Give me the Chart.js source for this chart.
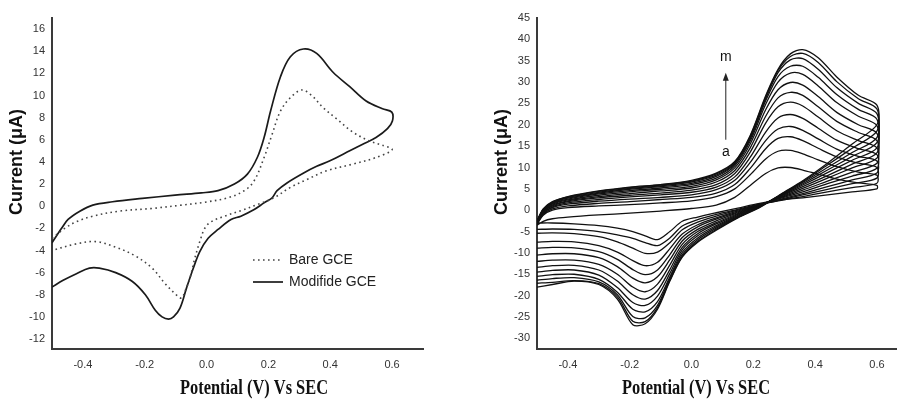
<!DOCTYPE html>
<html>
<head>
<meta charset="utf-8">
<script src="https://cdn.jsdelivr.net/npm/chart.js@4.4.1/dist/chart.umd.min.js"></script>
<style>
  html, body { margin: 0; padding: 0; background: #fff; }
  #wrap { position: relative; width: 897px; height: 402px; overflow: hidden; }
  .panel { position: absolute; top: 0; height: 402px; }
  #p1 { left: 0; width: 450px; }
  #p2 { left: 450px; width: 447px; }
</style>
</head>
<body>
<div id="wrap">
  <div class="panel" id="p1"><canvas id="c1" width="450" height="402"></canvas></div>
  <div class="panel" id="p2"><canvas id="c2" width="447" height="402"></canvas></div>
</div>
<script>
// ---------- Panel 1: bare vs modified electrode ----------
const bareE = [-0.5, -0.459, -0.421, -0.368, -0.283, -0.176, -0.08, -0.006, 0.069, 0.122, 0.154, 0.186,
  0.212, 0.239, 0.271, 0.308, 0.34, 0.377, 0.42, 0.473, 0.526, 0.569, 0.6,
  0.548, 0.473, 0.388, 0.324, 0.271, 0.218, 0.164, 0.111, 0.058, 0.015, -0.006, -0.022, -0.038,
  -0.054, -0.07, -0.081, -0.102, -0.134, -0.176, -0.23, -0.294, -0.357, -0.421, -0.5];
const bareI = [-2.9, -2.0, -1.4, -0.9, -0.45, -0.2, 0.1, 0.36, 0.76, 1.4, 2.3, 4.4,
  6.5, 8.6, 9.8, 10.5, 10.0, 8.9, 7.9, 6.7, 5.9, 5.5, 5.1,
  4.4, 3.8, 3.2, 2.4, 1.7, 0.76, 0.15, -0.4, -0.9, -1.4, -2.0, -3.2, -4.7,
  -6.5, -7.7, -8.3, -7.9, -7.0, -5.6, -4.5, -3.7, -3.2, -3.4, -4.0];

const modE = [-0.5, -0.469, -0.448, -0.41, -0.368, -0.304, -0.208, -0.102, -0.017, 0.037, 0.09, 0.132,
  0.164, 0.186, 0.207, 0.239, 0.271, 0.313, 0.356, 0.409, 0.463, 0.516, 0.569, 0.599,
  0.601, 0.585, 0.548, 0.505, 0.463, 0.399, 0.356, 0.314, 0.26, 0.228, 0.212, 0.186, 0.154,
  0.111, 0.079, 0.037, 0.005, -0.022, -0.043, -0.065, -0.086, -0.107, -0.123, -0.144, -0.166,
  -0.198, -0.24, -0.294, -0.347, -0.379, -0.421, -0.464, -0.5];
const modI = [-3.3, -2.0, -1.2, -0.45, 0.1, 0.4, 0.7, 1.0, 1.2, 1.4, 2.0, 2.9,
  4.4, 6.2, 8.6, 11.7, 13.5, 14.2, 13.8, 12.1, 10.8, 9.5, 8.8, 8.5,
  7.7, 7.0, 6.2, 5.6, 5.0, 4.1, 3.6, 3.0, 2.1, 1.4, 0.76, 0.3, -0.3,
  -0.9, -1.2, -2.1, -2.9, -4.1, -5.6, -7.4, -9.2, -10.0, -10.2, -10.0, -9.4,
  -8.0, -6.8, -6.0, -5.6, -5.6, -6.1, -6.7, -7.3];

const panel1Labels = ['Bare GCE', 'Modifide GCE'];
const panel1XTicks = [-0.4, -0.2, 0.0, 0.2, 0.4, 0.6];
const panel1YTicks = [-12, -10, -8, -6, -4, -2, 0, 2, 4, 6, 8, 10, 12, 14, 16];

// ---------- Panel 2: successive scans a..m ----------
// forward sweep (-0.5 -> 0.6) followed by reverse sweep (0.6 -> -0.5)
const scanE = [-0.5, -0.48, -0.45, -0.4, -0.3, -0.2, -0.1, 0.0, 0.08, 0.14, 0.19, 0.24, 0.28, 0.32, 0.36, 0.41, 0.47, 0.54, 0.6,
  0.6, 0.52, 0.44, 0.36, 0.29, 0.22, 0.15, 0.08, 0.02, -0.03, -0.07, -0.11, -0.15, -0.19, -0.24, -0.3, -0.38, -0.45, -0.5];

const scanA = [-3.5, -2.6, -2.0, -1.6, -1.1, -0.7, -0.2, 0.4, 1.2, 3.0, 5.8, 8.6, 9.9, 10.0, 9.4, 8.4, 7.3, 6.4, 5.8,
  5.0, 4.3, 3.6, 2.9, 2.4, 1.6, 0.5, -0.6, -1.6, -2.6, -5.0, -6.9, -6.0, -5.0, -4.2, -3.6, -3.2, -3.0, -3.0];
const scanB = [-3.3, -1.2, 0.0, 0.6, 1.0, 1.3, 1.7, 2.2, 3.2, 5.0, 8.3, 12.0, 13.8, 14.0, 13.2, 11.8, 10.2, 8.9, 8.2,
  6.3, 5.3, 4.3, 3.2, 2.3, 1.4, 0.2, -1.0, -2.2, -3.7, -6.5, -8.3, -7.6, -6.6, -5.8, -5.0, -4.5, -4.4, -4.5];
const scanC = [-3.2, -1.0, 0.3, 1.0, 1.6, 2.0, 2.5, 3.0, 4.0, 6.0, 9.8, 14.4, 16.8, 17.2, 16.3, 14.5, 12.5, 11.0, 10.0,
  7.5, 6.2, 4.9, 3.6, 2.4, 1.3, 0.0, -1.4, -2.8, -4.6, -7.6, -9.8, -10.1, -8.9, -7.4, -6.2, -5.5, -5.3, -5.4];
const scanD = [-3.1, -0.8, 0.6, 1.4, 2.1, 2.6, 3.0, 3.6, 4.8, 7.0, 11.2, 16.3, 19.0, 19.6, 18.7, 16.7, 14.3, 12.6, 11.5,
  8.7, 7.1, 5.5, 3.9, 2.6, 1.3, -0.2, -1.8, -3.4, -5.6, -9.0, -12.2, -13.0, -11.8, -9.8, -8.3, -7.4, -7.3, -7.5];
const scanE2 = [-3.0, -0.6, 0.8, 1.7, 2.5, 3.1, 3.6, 4.2, 5.4, 7.8, 12.4, 18.3, 21.6, 22.4, 21.5, 19.2, 16.4, 14.4, 13.0,
  9.8, 8.0, 6.2, 4.3, 2.8, 1.3, -0.4, -2.1, -3.9, -6.4, -10.4, -14.0, -15.1, -13.9, -11.5, -9.7, -8.8, -8.7, -8.9];
const scanF = [-2.9, -0.4, 1.0, 2.0, 2.9, 3.5, 4.0, 4.7, 6.0, 8.6, 13.6, 20.4, 24.2, 25.3, 24.4, 21.8, 18.6, 16.3, 14.6,
  11.0, 8.9, 6.8, 4.7, 3.0, 1.2, -0.6, -2.5, -4.5, -7.2, -11.6, -15.6, -17.0, -15.9, -13.2, -11.1, -10.2, -10.2, -10.5];
const scanG = [-2.8, -0.3, 1.2, 2.2, 3.2, 3.9, 4.5, 5.2, 6.6, 9.3, 14.6, 22.0, 26.3, 27.6, 26.9, 24.2, 20.8, 18.2, 16.3,
  12.2, 9.9, 7.5, 5.1, 3.1, 1.2, -0.8, -2.9, -5.0, -8.0, -12.8, -17.3, -19.1, -18.0, -15.0, -12.7, -11.7, -11.7, -12.0];
const scanH = [-2.8, -0.2, 1.4, 2.4, 3.5, 4.3, 4.9, 5.6, 7.1, 9.9, 15.5, 23.5, 28.2, 29.9, 29.3, 26.6, 22.9, 20.0, 18.0,
  13.4, 10.8, 8.1, 5.5, 3.3, 1.1, -1.0, -3.2, -5.5, -8.7, -13.9, -18.8, -20.8, -19.8, -16.6, -14.0, -12.9, -13.0, -13.4];
const scanI = [-2.7, -0.1, 1.6, 2.6, 3.8, 4.6, 5.2, 6.0, 7.5, 10.4, 16.2, 24.8, 30.0, 32.1, 31.8, 29.1, 25.2, 22.0, 19.8,
  14.6, 11.7, 8.8, 5.9, 3.4, 1.0, -1.2, -3.6, -6.0, -9.3, -14.8, -20.1, -22.3, -21.6, -18.1, -15.2, -14.0, -14.1, -14.5];
const scanJ = [-2.6, 0.0, 1.7, 2.8, 4.0, 4.9, 5.5, 6.3, 7.9, 10.8, 16.7, 25.6, 31.3, 33.7, 33.7, 31.1, 27.1, 23.6, 21.3,
  15.8, 12.6, 9.4, 6.2, 3.5, 0.9, -1.4, -3.9, -6.5, -9.9, -15.6, -21.4, -23.8, -23.2, -19.2, -16.2, -15.0, -15.1, -15.5];
const scanK = [-2.6, 0.1, 1.8, 3.0, 4.2, 5.1, 5.7, 6.6, 8.2, 11.0, 17.0, 26.1, 32.2, 35.2, 35.5, 33.0, 28.7, 25.0, 22.6,
  17.0, 13.5, 10.0, 6.5, 3.6, 0.8, -1.6, -4.2, -6.9, -10.4, -16.0, -22.3, -25.2, -24.9, -19.8, -16.8, -15.8, -16.0, -16.4];
const scanL = [-2.5, 0.2, 1.9, 3.1, 4.4, 5.3, 5.9, 6.8, 8.5, 11.2, 17.3, 26.5, 32.7, 36.0, 36.7, 34.6, 30.1, 26.1, 23.7,
  18.5, 14.5, 10.6, 6.7, 3.7, 0.7, -1.7, -4.5, -7.3, -10.8, -16.4, -22.8, -26.1, -26.0, -20.3, -17.2, -16.5, -16.9, -17.1];
const scanM = [-2.5, 0.3, 2.0, 3.2, 4.5, 5.4, 6.0, 7.0, 8.7, 11.4, 17.5, 26.8, 33.0, 36.6, 37.6, 35.7, 31.2, 26.9, 24.6,
  20.0, 15.5, 11.0, 6.9, 3.8, 0.6, -1.8, -4.7, -7.5, -11.0, -16.6, -23.2, -26.6, -26.8, -20.8, -17.4, -16.6, -17.4, -18.0];

const scanLabels = ['a', 'b', 'c', 'd', 'e', 'f', 'g', 'h', 'i', 'j', 'k', 'l', 'm'];
const scanSeries = [scanA, scanB, scanC, scanD, scanE2, scanF, scanG, scanH, scanI, scanJ, scanK, scanL, scanM];
const panel2XTicks = [-0.4, -0.2, 0.0, 0.2, 0.4, 0.6];
const panel2YTicks = [-30, -25, -20, -15, -10, -5, 0, 5, 10, 15, 20, 25, 30, 35, 40, 45];

// ---------- shared styling ----------
const SANS = '"Liberation Sans", Arial, Helvetica, sans-serif';
const SERIF = '"Liberation Serif", "Times New Roman", serif';
const AXIS_COLOR = '#3a3a3a';
const TICK_COLOR = '#333';

const toPoints = (xs, ys) => ys.map((y, i) => ({ x: xs[i], y }));

function makeScales(xMin, xMax, yMin, yMax, xTicks, yTicks, yWidth, xHeight) {
  return {
    x: {
      type: 'linear', min: xMin, max: xMax,
      grid: { display: false, drawTicks: false },
      border: { display: true, color: AXIS_COLOR, width: 2 },
      afterBuildTicks: s => { s.ticks = xTicks.map(v => ({ value: v })); },
      afterFit: s => { s.height = xHeight; },
      ticks: {
        padding: 9, autoSkip: false, maxRotation: 0,
        color: TICK_COLOR, font: { family: SANS, size: 11 },
        callback: v => Number(v).toFixed(1)
      }
    },
    y: {
      type: 'linear', min: yMin, max: yMax,
      grid: { display: false, drawTicks: false },
      border: { display: true, color: AXIS_COLOR, width: 2 },
      afterBuildTicks: s => { s.ticks = yTicks.map(v => ({ value: v })); },
      afterFit: s => { s.width = yWidth; },
      ticks: {
        padding: 7, autoSkip: false,
        color: TICK_COLOR, font: { family: SANS, size: 11 },
        callback: v => String(v)
      }
    }
  };
}

// Axis titles drawn at fixed spots around each panel
const axisTitles = {
  id: 'axisTitles',
  afterDraw(chart, args, o) {
    const ctx = chart.ctx;
    ctx.save();
    ctx.fillStyle = '#111';
    ctx.textAlign = 'center';
    ctx.textBaseline = 'middle';
    // vertical title
    ctx.save();
    ctx.font = 'bold 18px ' + SANS;
    ctx.translate(o.yX, o.yY);
    ctx.rotate(-Math.PI / 2);
    ctx.fillText(o.yText, 0, 0);
    ctx.restore();
    // horizontal title (narrow bold serif)
    ctx.save();
    ctx.font = 'bold 20px ' + SERIF;
    ctx.translate(o.xX, o.xY);
    ctx.scale(0.82, 1);
    ctx.fillText(o.xText, 0, 0);
    ctx.restore();
    ctx.restore();
  }
};

// Line-sample legend for panel 1
const sampleLegend = {
  id: 'sampleLegend',
  afterDatasetsDraw(chart, args, o) {
    const ctx = chart.ctx;
    ctx.save();
    ctx.font = '14px ' + SANS;
    ctx.textBaseline = 'middle';
    ctx.textAlign = 'left';
    chart.data.datasets.forEach((ds, i) => {
      const y = o.y + i * o.rowGap;
      ctx.beginPath();
      ctx.setLineDash(ds.borderDash || []);
      ctx.lineWidth = ds.borderWidth;
      ctx.strokeStyle = ds.borderColor;
      ctx.moveTo(o.x, y);
      ctx.lineTo(o.x + o.sample, y);
      ctx.stroke();
      ctx.setLineDash([]);
      ctx.fillStyle = '#222';
      ctx.fillText(ds.label, o.x + o.sample + 6, y);
    });
    ctx.restore();
  }
};

// Arrow marking scan order a -> m on panel 2
const scanArrow = {
  id: 'scanArrow',
  afterDatasetsDraw(chart, args, o) {
    const { ctx, scales: { x, y } } = chart;
    const px = x.getPixelForValue(o.at);
    const yTail = y.getPixelForValue(o.from);
    const yHead = y.getPixelForValue(o.to);
    ctx.save();
    ctx.strokeStyle = '#222';
    ctx.fillStyle = '#222';
    ctx.lineWidth = 1;
    ctx.beginPath();
    ctx.moveTo(px, yTail);
    ctx.lineTo(px, yHead + 6);
    ctx.stroke();
    ctx.beginPath();
    ctx.moveTo(px, yHead);
    ctx.lineTo(px - 3, yHead + 8);
    ctx.lineTo(px + 3, yHead + 8);
    ctx.closePath();
    ctx.fill();
    ctx.font = '14px ' + SANS;
    ctx.textAlign = 'center';
    ctx.textBaseline = 'middle';
    ctx.fillStyle = '#111';
    ctx.fillText(o.topText, px, y.getPixelForValue(o.topAt));
    ctx.fillText(o.bottomText, px, y.getPixelForValue(o.bottomAt));
    ctx.restore();
  }
};

Chart.defaults.animation = false;

new Chart(document.getElementById('c1'), {
  type: 'scatter',
  data: {
    datasets: [
      {
        label: panel1Labels[0], data: toPoints(bareE, bareI), showLine: true,
        borderColor: '#444', borderWidth: 1.6, borderDash: [1.6, 3.4],
        pointRadius: 0, tension: 0.35
      },
      {
        label: panel1Labels[1], data: toPoints(modE, modI), showLine: true,
        borderColor: '#1a1a1a', borderWidth: 1.7,
        pointRadius: 0, tension: 0.35
      }
    ]
  },
  options: {
    responsive: false, devicePixelRatio: 1,
    layout: { padding: { top: 18, right: 27, left: 0, bottom: 0 } },
    scales: makeScales(-0.5, 0.7, -12.9, 17, panel1XTicks, panel1YTicks, 52, 53),
    plugins: {
      legend: { display: false }, tooltip: { enabled: false },
      axisTitles: { yText: 'Current (\u03bcA)', yX: 17, yY: 162, xText: 'Potential (V) Vs SEC', xX: 254, xY: 389 },
      sampleLegend: { x: 253, y: 260, rowGap: 22, sample: 30 }
    }
  },
  plugins: [axisTitles, sampleLegend]
});

new Chart(document.getElementById('c2'), {
  type: 'scatter',
  data: {
    datasets: scanSeries.map((ys, i) => ({
      label: scanLabels[i], data: toPoints(scanE, ys), showLine: true,
      borderColor: '#111', borderWidth: 1.3, pointRadius: 0, tension: 0.3
    }))
  },
  options: {
    responsive: false, devicePixelRatio: 1,
    layout: { padding: { top: 18, right: 0, left: 0, bottom: 0 } },
    scales: makeScales(-0.5, 0.665, -32.5, 45, panel2XTicks, panel2YTicks, 87, 53),
    plugins: {
      legend: { display: false }, tooltip: { enabled: false },
      axisTitles: { yText: 'Current (\u03bcA)', yX: 52, yY: 162, xText: 'Potential (V) Vs SEC', xX: 246, xY: 389 },
      scanArrow: { at: 0.111, from: 16.5, to: 32.2, topText: 'm', topAt: 35.8, bottomText: 'a', bottomAt: 13.6 }
    }
  },
  plugins: [axisTitles, scanArrow]
});
</script>
</body>
</html>
